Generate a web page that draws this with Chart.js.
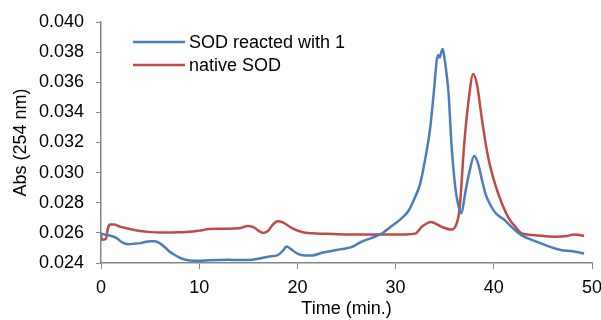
<!DOCTYPE html>
<html>
<head>
<meta charset="utf-8">
<script src="https://cdn.jsdelivr.net/npm/chart.js@4/dist/chart.umd.min.js"></script>
<style>
    html, body { margin: 0; padding: 0; background: #fff; }
    #wrap { width: 601px; height: 320px; }
</style>
</head>
<body>
<div id="wrap"><canvas id="chart"></canvas></div>
<script>
const seriesNames = ['SOD reacted with 1', 'native SOD'];
const seriesColors = ['#4A7EBB', '#BE4B48'];

const reactedTime = [0.0, 0.3, 1.0, 1.6, 2.2, 2.8, 3.4, 4.0, 4.5, 5.0, 5.5, 6.0, 6.5, 7.0, 7.6, 8.2, 9.0, 10.0, 11.0, 12.0,
    13.0, 14.0, 15.0, 16.0, 17.0, 18.0, 18.5, 18.9, 19.3, 19.8, 20.5, 21.5, 22.5, 23.5, 24.5, 25.5, 26.5, 27.5, 28.6, 29.6,
    30.5, 31.3, 32.0, 32.5, 33.0, 33.5, 33.9, 34.2, 34.35, 34.5, 34.65, 34.8, 35.0, 35.2, 35.4, 35.7, 36.1, 36.4, 36.7, 37.1,
    37.5, 38.0, 38.4, 38.8, 39.2, 39.7, 40.2, 41.0, 41.8, 42.8, 43.8, 44.8, 45.8, 46.9, 48.0, 49.2];
const reactedAbs = [0.02595, 0.0259, 0.0258, 0.02565, 0.02535, 0.02525, 0.02528, 0.02532, 0.0254, 0.02545, 0.02545, 0.0253, 0.02505, 0.02475, 0.0245, 0.0243, 0.02417, 0.02415, 0.02418, 0.0242,
    0.02421, 0.0242, 0.0242, 0.02428, 0.02442, 0.02452, 0.0248, 0.0251, 0.02495, 0.0247, 0.02452, 0.0245, 0.02468, 0.0248, 0.02492, 0.02505, 0.0254, 0.02565, 0.02596, 0.02645,
    0.0269, 0.02745, 0.0284, 0.02925, 0.03085, 0.03285, 0.0354, 0.0375, 0.0378, 0.03765, 0.0380, 0.0382, 0.0375, 0.0365, 0.0352, 0.0318, 0.0289, 0.0278, 0.0273, 0.0287,
    0.0300, 0.0311, 0.0306, 0.0295, 0.0285, 0.0278, 0.0273, 0.0269, 0.0264, 0.02585, 0.02555, 0.0253, 0.02505, 0.02485, 0.02478, 0.02463];

const nativeTime = [0.0, 0.05, 0.5, 0.7, 0.9, 1.3, 2.0, 3.0, 4.0, 5.0, 6.0, 7.0, 8.0, 9.0, 10.0, 11.0, 12.0, 13.0, 14.0, 15.0,
    15.5, 16.5, 17.0, 17.5, 18.0, 18.5, 19.5, 20.5, 21.5, 23.0, 25.0, 27.0, 29.0, 31.0, 32.0, 32.7, 33.6, 34.7, 35.7, 36.2,
    36.5, 37.0, 37.4, 37.9, 38.3, 38.8, 39.4, 40.1, 40.8, 41.5, 42.2, 42.8, 44.2, 46.2, 47.5, 48.2, 49.2];
const nativeAbs = [0.0260, 0.02555, 0.0256, 0.0263, 0.02655, 0.02655, 0.0264, 0.02625, 0.02612, 0.02605, 0.02602, 0.02602, 0.02604, 0.02607, 0.02615, 0.02625, 0.02628, 0.02628, 0.0263, 0.02645,
    0.02638, 0.026, 0.02612, 0.02655, 0.02678, 0.0267, 0.0263, 0.02605, 0.02597, 0.02594, 0.0259, 0.0259, 0.0259, 0.0259, 0.02595, 0.02642, 0.02673, 0.0264, 0.02622, 0.0266,
    0.0275, 0.0320, 0.0346, 0.03655, 0.0358, 0.0335, 0.0311, 0.0293, 0.0280, 0.0270, 0.0264, 0.02598, 0.02585, 0.02575, 0.0258, 0.0259, 0.0258];

const xTicks = [0, 10, 20, 30, 40, 50];
const yTicks = [0.024, 0.026, 0.028, 0.030, 0.032, 0.034, 0.036, 0.038, 0.040];

const axisColor = '#868686';
const fontFamily = '"Liberation Sans", Arial, sans-serif';

function toPoints(xs, ys) {
    return xs.map((x, i) => ({ x: x, y: ys[i] }));
}

// legend drawn inside the plot, top left
const insideLegend = {
    id: 'insideLegend',
    afterDraw(chart) {
        const ctx = chart.ctx;
        const area = chart.chartArea;
        ctx.save();
        ctx.font = '18px ' + fontFamily;
        ctx.textBaseline = 'middle';
        ctx.textAlign = 'left';
        chart.data.datasets.forEach((ds, i) => {
            const y = area.top + 20 + i * 23;
            ctx.strokeStyle = ds.borderColor;
            ctx.lineWidth = 2.5;
            ctx.beginPath();
            ctx.moveTo(area.left + 32, y);
            ctx.lineTo(area.left + 84, y);
            ctx.stroke();
            ctx.fillStyle = '#000';
            ctx.fillText(ds.label, area.left + 88, y + 1);
        });
        ctx.restore();
    }
};

new Chart(document.getElementById('chart'), {
    type: 'line',
    data: {
        datasets: [
            {
                label: seriesNames[0],
                data: toPoints(reactedTime, reactedAbs),
                borderColor: seriesColors[0],
                borderWidth: 2.5,
                pointRadius: 0,
                cubicInterpolationMode: 'monotone',
                fill: false
            },
            {
                label: seriesNames[1],
                data: toPoints(nativeTime, nativeAbs),
                borderColor: seriesColors[1],
                borderWidth: 2.5,
                pointRadius: 0,
                cubicInterpolationMode: 'monotone',
                fill: false
            }
        ]
    },
    options: {
        responsive: true,
        maintainAspectRatio: false,
        animation: false,
        layout: { padding: { top: 22, right: 9, left: 0, bottom: 0 } },
        plugins: {
            legend: { display: false },
            tooltip: { enabled: false }
        },
        scales: {
            x: {
                type: 'linear',
                min: 0,
                max: 50,
                afterFit: (s) => { s.height = 57; s.paddingLeft = 0; s.paddingRight = 0; },
                afterBuildTicks: (s) => { s.ticks = xTicks.map(v => ({ value: v })); },
                grid: { drawOnChartArea: false, color: axisColor, tickLength: 6, tickColor: axisColor },
                border: { color: axisColor, width: 1.5 },
                ticks: { color: '#000', font: { size: 18, family: fontFamily }, padding: 8 },
                title: { display: true, text: 'Time (min.)', color: '#000', font: { size: 18, family: fontFamily }, padding: { top: 0, bottom: 0 } }
            },
            y: {
                min: 0.024,
                max: 0.040,
                afterFit: (s) => { s.width = 101; s.paddingTop = 0; s.paddingBottom = 0; },
                afterBuildTicks: (s) => { s.ticks = yTicks.map(v => ({ value: v })); },
                grid: { drawOnChartArea: false, color: axisColor, tickLength: 5, tickColor: axisColor },
                border: { color: axisColor, width: 1.5 },
                ticks: { color: '#000', font: { size: 18, family: fontFamily }, padding: 12, callback: (v) => v.toFixed(3) },
                title: { display: true, text: 'Abs (254 nm)', color: '#000', font: { size: 18, family: fontFamily }, padding: { top: 10, bottom: 0 } }
            }
        }
    },
    plugins: [insideLegend]
});
</script>
</body>
</html>
